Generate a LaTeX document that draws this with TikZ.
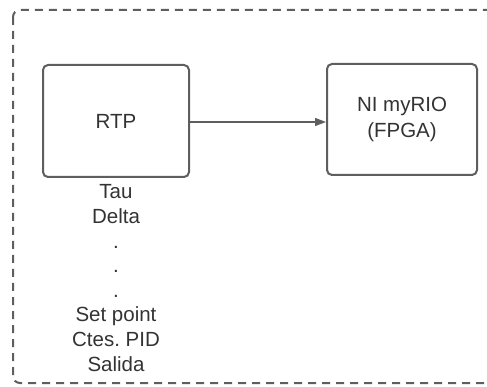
\documentclass[tikz,border=0pt]{standalone}
\usepackage{fontspec}
\setmainfont{Liberation Sans}
\usetikzlibrary{arrows.meta}
\definecolor{linegray}{HTML}{5E5E5E}
\definecolor{textgray}{HTML}{333333}
\tikzset{
  blockbox/.style={draw=linegray, line width=2pt, rounded corners=5pt, fill=white,
    text=textgray, align=center, font=\fontsize{20.5}{26}\selectfont, inner sep=0pt},
  frame/.style={draw=linegray, line width=2pt, dash pattern=on 8pt off 6pt, rounded corners=7pt},
  link/.style={draw=linegray, line width=1.3pt, -{Triangle[length=11pt,width=8pt]}},
  listtext/.style={text=textgray, align=center, font=\fontsize{20.5}{24.6}\selectfont, inner sep=0pt}
}
\begin{document}
\begin{tikzpicture}[x=1pt,y=-1pt]
\useasboundingbox (0,0) rectangle (487,387);
\clip (0,0) rectangle (487,387);
\draw[frame] (13,10) rectangle (510,383);
\node[blockbox, minimum width=146pt, minimum height=112pt] (rtp) at (116,121) {RTP};
\node[blockbox, minimum width=150pt, minimum height=111pt] (ni) at (402,119.5) {NI myRIO\\(FPGA)};
\draw[link] (rtp.east |- 0,122) -- (ni.west |- 0,122);
\node[listtext, anchor=north] (params) at (116,184.5) {Tau\\Delta\\.\\.\\.\\Set point\\Ctes.\ PID\\Salida};
\end{tikzpicture}
\end{document}
